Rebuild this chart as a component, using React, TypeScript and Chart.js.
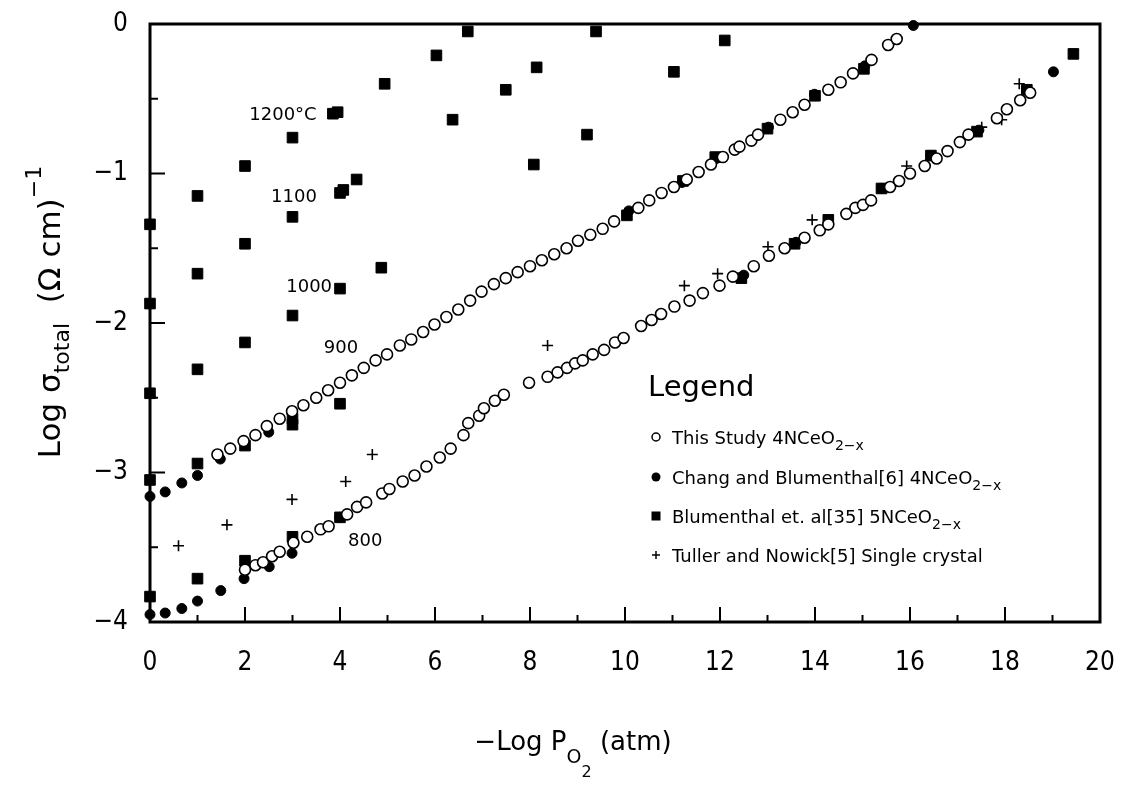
import React, { useEffect, useRef } from 'react';
import { Chart, registerables } from 'chart.js';
Chart.register(...registerables);

const FONT = '"DejaVu Sans", sans-serif';
const TICK_FONT = '"DejaVu Sans Condensed", "DejaVu Sans", sans-serif';

// axis ticks
const xTicks = [0, 2, 4, 6, 8, 10, 12, 14, 16, 18, 20];
const xTickLabels = ['0', '2', '4', '6', '8', '10', '12', '14', '16', '18', '20'];
const xMinorTicks = [1, 3, 5, 7, 9, 11, 13, 15, 17, 19];
const yTicks = [0, -1, -2, -3, -4];
const yTickLabels = ['0', '\u22121', '\u22122', '\u22123', '\u22124'];
const yMinorTicks = [-0.5, -1.5, -2.5, -3.5];

// This Study 4NCeO2-x (open circles) - upper branch
const studyUpperX = [1.42, 1.69, 1.97, 2.22, 2.46, 2.73, 2.99, 3.23, 3.5, 3.75, 4.0, 4.25, 4.5, 4.75, 4.99, 5.26, 5.5, 5.75, 5.99, 6.24, 6.49, 6.74, 6.98, 7.24, 7.49, 7.74, 8.0, 8.25, 8.51, 8.77, 9.01, 9.27, 9.53, 9.77, 10.28, 10.51, 10.77, 11.03, 11.3, 11.55, 11.81, 12.06, 12.31, 12.41, 12.66, 12.8, 13.27, 13.53, 13.78, 14.28, 14.54, 14.8, 15.19, 15.54, 15.72];
const studyUpperY = [-2.88, -2.84, -2.79, -2.75, -2.69, -2.64, -2.59, -2.55, -2.5, -2.45, -2.4, -2.35, -2.3, -2.25, -2.21, -2.15, -2.11, -2.06, -2.01, -1.96, -1.91, -1.85, -1.79, -1.74, -1.7, -1.66, -1.62, -1.58, -1.54, -1.5, -1.45, -1.41, -1.37, -1.32, -1.23, -1.18, -1.13, -1.09, -1.04, -0.99, -0.94, -0.89, -0.84, -0.82, -0.78, -0.74, -0.64, -0.59, -0.54, -0.44, -0.39, -0.33, -0.24, -0.14, -0.1];
// This Study - lower branch
const studyLowerX = [2.0, 2.22, 2.38, 2.57, 2.73, 3.02, 3.31, 3.59, 3.76, 4.15, 4.36, 4.55, 4.89, 5.04, 5.32, 5.57, 5.82, 6.1, 6.33, 6.6, 6.7, 6.93, 7.03, 7.26, 7.45, 7.98, 8.37, 8.58, 8.78, 8.95, 9.11, 9.32, 9.56, 9.79, 9.97, 10.34, 10.56, 10.76, 11.04, 11.36, 11.64, 11.99, 12.27, 12.71, 13.03, 13.36, 13.78, 14.1, 14.28, 14.66, 14.85, 15.01, 15.18, 15.58, 15.77, 16.0, 16.31, 16.56, 16.79, 17.05, 17.23, 17.83, 18.04, 18.32, 18.53];
const studyLowerY = [-3.65, -3.62, -3.6, -3.56, -3.53, -3.47, -3.43, -3.38, -3.36, -3.28, -3.23, -3.2, -3.14, -3.11, -3.06, -3.02, -2.96, -2.9, -2.84, -2.75, -2.67, -2.62, -2.57, -2.52, -2.48, -2.4, -2.36, -2.33, -2.3, -2.27, -2.25, -2.21, -2.18, -2.13, -2.1, -2.02, -1.98, -1.94, -1.89, -1.85, -1.8, -1.75, -1.69, -1.62, -1.55, -1.5, -1.43, -1.38, -1.34, -1.27, -1.23, -1.21, -1.18, -1.09, -1.05, -1.0, -0.95, -0.9, -0.85, -0.79, -0.74, -0.63, -0.57, -0.51, -0.46];

// Chang and Blumenthal[6] 4NCeO2-x (filled circles)
const changX = [0, 0.32, 0.67, 1.0, 1.48, 2.5, 10.08, 11.2, 11.92, 13.02, 13.99, 15.05, 16.07, 0, 0.32, 0.67, 1.0, 1.49, 1.98, 2.51, 2.99, 3.99, 12.5, 13.6, 15.4, 16.44, 17.45, 18.46, 19.02];
const changY = [-3.16, -3.13, -3.07, -3.02, -2.91, -2.73, -1.25, -1.06, -0.9, -0.69, -0.47, -0.28, -0.01, -3.95, -3.94, -3.91, -3.86, -3.79, -3.71, -3.63, -3.54, -3.3, -1.68, -1.46, -1.1, -0.88, -0.71, -0.44, -0.32];

// Blumenthal et. al[35] 5NCeO2-x (filled squares)
const blumX = [0, 0, 0, 0, 0, 1, 1, 1, 1, 1, 2, 2, 2, 2, 2, 3, 3, 3, 3, 3, 3, 3.85, 3.95, 4.0, 4.07, 4.35, 4.0, 4.0, 4.0, 4.87, 4.94, 6.03, 6.37, 6.69, 7.49, 8.14, 8.08, 9.2, 9.39, 11.03, 12.1, 10.04, 11.22, 11.9, 13.0, 14.0, 15.03, 12.45, 13.57, 14.28, 15.4, 16.44, 17.41, 18.46, 19.44];
const blumY = [-1.34, -1.87, -2.47, -3.05, -3.83, -1.15, -1.67, -2.31, -2.94, -3.71, -0.95, -1.47, -2.13, -2.82, -3.59, -0.76, -1.29, -1.95, -2.64, -2.68, -3.43, -0.6, -0.59, -1.13, -1.11, -1.04, -1.77, -2.54, -3.3, -1.63, -0.4, -0.21, -0.64, -0.05, -0.44, -0.29, -0.94, -0.74, -0.05, -0.32, -0.11, -1.28, -1.05, -0.89, -0.7, -0.48, -0.3, -1.7, -1.47, -1.31, -1.1, -0.88, -0.72, -0.44, -0.2];

// Tuller and Nowick[5] Single crystal (crosses)
const tullerX = [0.6, 1.62, 2.99, 4.12, 4.68, 8.37, 11.25, 11.95, 13.01, 13.94, 15.93, 17.51, 17.93, 18.3];
const tullerY = [-3.49, -3.35, -3.18, -3.06, -2.88, -2.15, -1.75, -1.67, -1.49, -1.31, -0.95, -0.69, -0.64, -0.4];

// temperature annotations
const tempLabels = ['1200\u00B0C', '1100', '1000', '900', '800'];
const tempLabelX = [2.8, 3.03, 3.35, 4.02, 4.53];
const tempLabelY = [-0.61, -1.16, -1.76, -2.17, -3.46];

const toPts = (xs: number[], ys: number[]) => xs.map((x, i) => ({ x, y: ys[i] }));

type Seg = { t: string; size: number; dy: number };
function drawRich(ctx: CanvasRenderingContext2D, segs: Seg[], x: number, y: number, align: 'left' | 'center') {
  let total = 0;
  for (const s of segs) {
    ctx.font = `${s.size}px ${FONT}`;
    total += ctx.measureText(s.t).width;
  }
  let cur = align === 'center' ? x - total / 2 : x;
  ctx.textAlign = 'left';
  ctx.textBaseline = 'alphabetic';
  for (const s of segs) {
    ctx.font = `${s.size}px ${FONT}`;
    ctx.fillText(s.t, cur, y + s.dy);
    cur += ctx.measureText(s.t).width;
  }
}

const decorPlugin = {
  id: 'decor',
  beforeDatasetsDraw(chart: any) {
    const { ctx, chartArea: a, scales } = chart;
    const xs = scales.x;
    const ys = scales.y;
    ctx.save();
    ctx.strokeStyle = '#000';
    ctx.lineWidth = 2;
    ctx.beginPath();
    xTicks.forEach((v) => { const p = xs.getPixelForValue(v); ctx.moveTo(p, a.bottom); ctx.lineTo(p, a.bottom - 15); });
    xMinorTicks.forEach((v) => { const p = xs.getPixelForValue(v); ctx.moveTo(p, a.bottom); ctx.lineTo(p, a.bottom - 7); });
    yTicks.forEach((v) => { const p = ys.getPixelForValue(v); ctx.moveTo(a.left, p); ctx.lineTo(a.left + 15, p); });
    yMinorTicks.forEach((v) => { const p = ys.getPixelForValue(v); ctx.moveTo(a.left, p); ctx.lineTo(a.left + 8, p); });
    ctx.stroke();
    ctx.lineWidth = 3;
    ctx.strokeRect(a.left, a.top, a.width, a.height);
    ctx.restore();
  },
  afterDraw(chart: any) {
    const { ctx, scales } = chart;
    const xs = scales.x;
    const ys = scales.y;
    ctx.save();
    ctx.fillStyle = '#000';
    ctx.strokeStyle = '#000';

    // temperature labels
    ctx.font = `18px ${FONT}`;
    ctx.textAlign = 'center';
    ctx.textBaseline = 'middle';
    tempLabels.forEach((t, i) => {
      ctx.fillText(t, xs.getPixelForValue(tempLabelX[i]), ys.getPixelForValue(tempLabelY[i]));
    });

    // x title
    drawRich(ctx, [
      { t: '\u2212Log P', size: 26, dy: 0 },
      { t: 'O', size: 19, dy: 13 },
      { t: '2', size: 16, dy: 27 },
      { t: ' (atm)', size: 26, dy: 0 },
    ], 573, 750, 'center');

    // y title
    ctx.save();
    ctx.translate(60, 312);
    ctx.rotate(-Math.PI / 2);
    drawRich(ctx, [
      { t: 'Log \u03C3', size: 31, dy: 0 },
      { t: 'total', size: 22, dy: 9 },
      { t: '  (\u03A9 cm)', size: 31, dy: 0 },
      { t: '\u22121', size: 22, dy: -19 },
    ], 0, 0, 'center');
    ctx.restore();

    // legend
    const lx = 648;
    drawRich(ctx, [{ t: 'Legend', size: 29, dy: 0 }], lx, 396, 'left');
    const items: Seg[][] = [
      [{ t: 'This Study 4NCeO', size: 18, dy: 0 }, { t: '2\u2212x', size: 14, dy: 6 }],
      [{ t: 'Chang and Blumenthal[6] 4NCeO', size: 18, dy: 0 }, { t: '2\u2212x', size: 14, dy: 6 }],
      [{ t: 'Blumenthal et. al[35] 5NCeO', size: 18, dy: 0 }, { t: '2\u2212x', size: 14, dy: 6 }],
      [{ t: 'Tuller and Nowick[5] Single crystal', size: 18, dy: 0 }],
    ];
    const rowY = [437, 477, 516, 555];
    const mx = 656;
    items.forEach((segs, i) => {
      const cy = rowY[i];
      ctx.lineWidth = 1.5;
      if (i === 0) { ctx.beginPath(); ctx.arc(mx, cy, 4, 0, Math.PI * 2); ctx.stroke(); }
      if (i === 1) { ctx.beginPath(); ctx.arc(mx, cy, 4.5, 0, Math.PI * 2); ctx.fill(); }
      if (i === 2) { ctx.fillRect(mx - 4.5, cy - 4.5, 9, 9); }
      if (i === 3) { ctx.beginPath(); ctx.moveTo(mx - 4, cy); ctx.lineTo(mx + 4, cy); ctx.moveTo(mx, cy - 4); ctx.lineTo(mx, cy + 4); ctx.stroke(); }
      drawRich(ctx, segs, 672, cy + 7, 'left');
    });
    ctx.restore();
  },
};

export default function App() {
  const ref = useRef<HTMLCanvasElement | null>(null);
  useEffect(() => {
    if (!ref.current) return;
    const chart = new Chart(ref.current, {
      type: 'scatter',
      data: {
        datasets: [
          {
            label: 'This Study 4NCeO2-x (upper)',
            data: toPts(studyUpperX, studyUpperY),
            pointStyle: 'circle', pointRadius: 5.5, borderWidth: 1.6,
            borderColor: '#000', backgroundColor: 'rgba(255,255,255,1)', clip: false,
          },
          {
            label: 'This Study 4NCeO2-x (lower)',
            data: toPts(studyLowerX, studyLowerY),
            pointStyle: 'circle', pointRadius: 5.5, borderWidth: 1.6,
            borderColor: '#000', backgroundColor: 'rgba(255,255,255,1)', clip: false,
          },
          {
            label: 'Chang and Blumenthal[6] 4NCeO2-x',
            data: toPts(changX, changY),
            pointStyle: 'circle', pointRadius: 5, borderWidth: 1,
            borderColor: '#000', backgroundColor: '#000', clip: false,
          },
          {
            label: 'Blumenthal et. al[35] 5NCeO2-x',
            data: toPts(blumX, blumY),
            pointStyle: 'rect', pointRadius: 7.5, borderWidth: 1,
            borderColor: '#000', backgroundColor: '#000', clip: false,
          },
          {
            label: 'Tuller and Nowick[5] Single crystal',
            data: toPts(tullerX, tullerY),
            pointStyle: 'cross', pointRadius: 5.5, borderWidth: 1.6,
            borderColor: '#000', backgroundColor: '#000', clip: false,
          },
        ],
      },
      options: {
        responsive: false,
        animation: false,
        events: [],
        layout: { padding: { top: 24, right: 22, left: 0, bottom: 0 } },
        plugins: { legend: { display: false }, tooltip: { enabled: false } },
        scales: {
          x: {
            type: 'linear', min: 0, max: 20,
            grid: { display: false, drawTicks: false },
            border: { display: false },
            afterBuildTicks: (s: any) => { s.ticks = xTicks.map((v) => ({ value: v })); },
            afterFit: (s: any) => { s.height = 165; s.paddingLeft = 0; s.paddingRight = 0; },
            ticks: {
              color: '#000', padding: 26, maxRotation: 0, autoSkip: false,
              font: { family: TICK_FONT, size: 26 },
              callback: (v: any) => xTickLabels[xTicks.indexOf(Number(v))] ?? '',
            },
          },
          y: {
            type: 'linear', min: -4, max: 0,
            grid: { display: false, drawTicks: false },
            border: { display: false },
            afterBuildTicks: (s: any) => { s.ticks = yTicks.map((v) => ({ value: v })); },
            afterFit: (s: any) => { s.width = 150; s.paddingTop = 0; s.paddingBottom = 0; },
            ticks: {
              color: '#000', padding: 22, autoSkip: false,
              font: { family: TICK_FONT, size: 26 },
              callback: (v: any) => yTickLabels[yTicks.indexOf(Number(v))] ?? '',
            },
          },
        },
      },
      plugins: [decorPlugin],
    } as any);
    return () => chart.destroy();
  }, []);
  return (
    <div style={{ position: 'fixed', left: 0, top: 0, width: 1122, height: 787, background: '#fff' }}>
      <canvas ref={ref} width={1122} height={787} />
    </div>
  );
}
